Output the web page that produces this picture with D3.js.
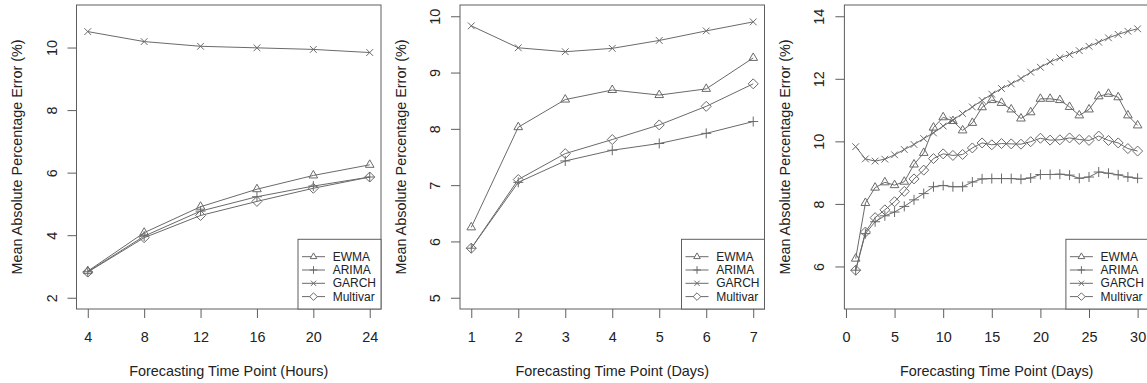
<!DOCTYPE html>
<html lang="en">
<head>
<meta charset="UTF-8">
<title>MAPE by forecasting time point</title>
<script src="https://d3js.org/d3.v7.min.js"></script>
<style>
  body { margin: 0; background: #fff; }
  svg text { font-family: "Liberation Sans", Arial, sans-serif; fill: #222; }
</style>
</head>
<body>
<svg id="chart"></svg>
<script>
// series names and marker types (R pch 2, 3, 4, 5)
var seriesNames = ["EWMA", "ARIMA", "GARCH", "Multivar"];
var seriesMarks = ["triangle", "plus", "cross", "diamond"];

// panel 1: hours
var hours = [4, 8, 12, 16, 20, 24];
var hEwma = [2.85, 4.08, 4.91, 5.47, 5.91, 6.25];
var hArima = [2.83, 3.97, 4.77, 5.23, 5.57, 5.86];
var hGarch = [10.51, 10.19, 10.04, 9.99, 9.94, 9.84];
var hMulti = [2.82, 3.92, 4.63, 5.08, 5.50, 5.86];

// panel 2: days 1-7
var week = [1, 2, 3, 4, 5, 6, 7];
var wEwma = [6.25, 8.03, 8.52, 8.69, 8.60, 8.71, 9.26];
var wArima = [5.88, 7.05, 7.43, 7.62, 7.74, 7.92, 8.13];
var wGarch = [9.83, 9.44, 9.37, 9.43, 9.57, 9.74, 9.90];
var wMulti = [5.88, 7.10, 7.56, 7.81, 8.07, 8.40, 8.80];

// panel 3: days 1-30
var month = [1, 2, 3, 4, 5, 6, 7, 8, 9, 10, 11, 12, 13, 14, 15,
             16, 17, 18, 19, 20, 21, 22, 23, 24, 25, 26, 27, 28, 29, 30];
var mEwma = [6.25, 8.03, 8.52, 8.69, 8.60, 8.71, 9.26, 9.63, 10.44, 10.77,
             10.65, 10.35, 10.59, 11.09, 11.32, 11.23, 11.02, 10.73, 10.93, 11.36,
             11.36, 11.32, 11.10, 10.83, 11.02, 11.44, 11.52, 11.41, 10.83, 10.51];
var mArima = [5.88, 7.05, 7.43, 7.62, 7.74, 7.92, 8.13, 8.33, 8.55, 8.59,
              8.55, 8.55, 8.70, 8.80, 8.81, 8.81, 8.81, 8.79, 8.83, 8.94,
              8.94, 8.95, 8.92, 8.82, 8.86, 9.02, 8.98, 8.93, 8.86, 8.82];
var mGarch = [9.83, 9.44, 9.37, 9.43, 9.57, 9.74, 9.90, 10.09, 10.27, 10.49,
              10.68, 10.89, 11.10, 11.31, 11.51, 11.69, 11.84, 12.01, 12.21, 12.37,
              12.54, 12.67, 12.78, 12.90, 13.04, 13.17, 13.31, 13.42, 13.52, 13.60];
var mMulti = [5.88, 7.10, 7.56, 7.81, 8.07, 8.40, 8.80, 9.08, 9.45, 9.60,
              9.55, 9.58, 9.79, 9.95, 9.89, 9.93, 9.92, 9.91, 9.99, 10.10,
              10.04, 10.05, 10.11, 10.06, 10.03, 10.17, 10.03, 9.95, 9.77, 9.69];

// axis ticks
var hTicks = [4, 8, 12, 16, 20, 24];
var wTicks = [1, 2, 3, 4, 5, 6, 7];
var mTicks = [0, 5, 10, 15, 20, 25, 30];
var hYTicks = [2, 4, 6, 8, 10];
var wYTicks = [5, 6, 7, 8, 9, 10];
var mYTicks = [6, 8, 10, 12, 14];

var xTitles = ["Forecasting Time Point (Hours)", "Forecasting Time Point (Days)", "Forecasting Time Point (Days)"];
var yTitle = "Mean Absolute Percentage Error (%)";

var width = 1147, height = 383;
var svg = d3.select("#chart").attr("width", width).attr("height", height);

// R style 4% padding of the limits
function pad(lim) {
    var d = (lim[1] - lim[0]) * 0.04;
    return [lim[0] - d, lim[1] + d];
}

// marker paths, drawn open
function mark(type, r) {
    if (type === "triangle") {
        var h = r * 0.866;
        return "M0," + (-r) + "L" + h + "," + (r * 0.5) + "L" + (-h) + "," + (r * 0.5) + "Z";
    }
    if (type === "plus") {
        return "M" + (-r) + ",0H" + r + "M0," + (-r) + "V" + r;
    }
    if (type === "cross") {
        var c = r * 0.75;
        return "M" + (-c) + "," + (-c) + "L" + c + "," + c + "M" + (-c) + "," + c + "L" + c + "," + (-c);
    }
    return "M0," + (-r) + "L" + r + ",0L0," + r + "L" + (-r) + ",0Z";
}

var panels = [
    { left: 76.5, x: hours, xlim: [4, 24], ylim: [2, 11], xt: hTicks, yt: hYTicks, data: [hEwma, hArima, hGarch, hMulti] },
    { left: 460, x: week, xlim: [1, 7], ylim: [5, 10], xt: wTicks, yt: wYTicks, data: [wEwma, wArima, wGarch, wMulti] },
    { left: 844.4, x: month, xlim: [1, 30], ylim: [5, 14], xt: mTicks, yt: mYTicks, data: [mEwma, mArima, mGarch, mMulti] }
];

var plotTop = 5, plotBottom = 309, boxW = 304.5;
var lineCol = "#6a6a6a", boxCol = "#5e5e5e";
var fontSize = 14.4;

panels.forEach(function(p, pi) {
    var g = svg.append("g");
    var x = d3.scaleLinear().domain(pad(p.xlim)).range([p.left, p.left + boxW]);
    var y = d3.scaleLinear().domain(pad(p.ylim)).range([plotBottom, plotTop]);

    // series
    p.data.forEach(function(vals, si) {
        var pts = p.x.map(function(d, i) { return [x(d), y(vals[i])]; });
        g.append("path")
            .attr("d", d3.line()(pts))
            .attr("fill", "none")
            .attr("stroke", lineCol)
            .attr("stroke-width", 1);
        g.selectAll(null).data(pts).enter().append("path")
            .attr("transform", function(d) { return "translate(" + d[0] + "," + d[1] + ")"; })
            .attr("d", mark(seriesMarks[si], si === 2 ? 4.5 : 5))
            .attr("fill", "none")
            .attr("stroke", lineCol)
            .attr("stroke-width", 1);
    });

    // axes
    var ax = g.append("g").attr("transform", "translate(0," + plotBottom + ")")
        .call(d3.axisBottom(x).tickValues(p.xt).tickFormat(d3.format("d"))
            .tickSize(9).tickPadding(14).tickSizeOuter(0));
    var ay = g.append("g").attr("transform", "translate(" + p.left + ",0)")
        .call(d3.axisLeft(y).tickValues(p.yt).tickFormat(d3.format("d"))
            .tickSize(9).tickSizeOuter(0));
    [ax, ay].forEach(function(a) {
        a.select(".domain").remove();
        a.selectAll("line").attr("stroke", boxCol);
        a.selectAll("text").attr("font-size", fontSize).attr("fill", "#222")
            .style("font-family", '"Liberation Sans", Arial, sans-serif');
    });
    ay.selectAll("text")
        .attr("x", null).attr("dy", null).attr("y", null)
        .attr("text-anchor", "middle")
        .attr("transform", "translate(-25,0) rotate(-90)")
        .attr("dominant-baseline", "central");

    // box
    g.append("rect")
        .attr("x", p.left).attr("y", plotTop)
        .attr("width", boxW).attr("height", plotBottom - plotTop)
        .attr("fill", "none").attr("stroke", boxCol);

    // titles
    g.append("text")
        .attr("x", p.left + boxW / 2).attr("y", 371)
        .attr("text-anchor", "middle").attr("dominant-baseline", "central")
        .attr("font-size", fontSize).text(xTitles[pi]);
    g.append("text")
        .attr("transform", "translate(" + (p.left - 59.5) + "," + ((plotTop + plotBottom) / 2) + ") rotate(-90)")
        .attr("text-anchor", "middle").attr("dominant-baseline", "central")
        .attr("font-size", fontSize).text(yTitle);

    // legend
    var lx = p.left + boxW - 83, ly = 239.3;
    var lg = g.append("g").attr("transform", "translate(" + lx + "," + ly + ")");
    lg.append("rect").attr("width", 83).attr("height", plotBottom - ly)
        .attr("fill", "#fff").attr("stroke", boxCol);
    seriesNames.forEach(function(name, si) {
        var ry = 17.4 + si * 13.3;
        lg.append("line").attr("x1", 4).attr("x2", 27).attr("y1", ry).attr("y2", ry)
            .attr("stroke", lineCol);
        lg.append("path").attr("transform", "translate(15.5," + ry + ")")
            .attr("d", mark(seriesMarks[si], si === 2 ? 3.5 : 3.8))
            .attr("fill", "#fff").attr("stroke", lineCol);
        lg.append("text").attr("x", 34.7).attr("y", ry)
            .attr("dominant-baseline", "central").attr("font-size", 12).text(name);
    });
});
</script>
</body>
</html>
